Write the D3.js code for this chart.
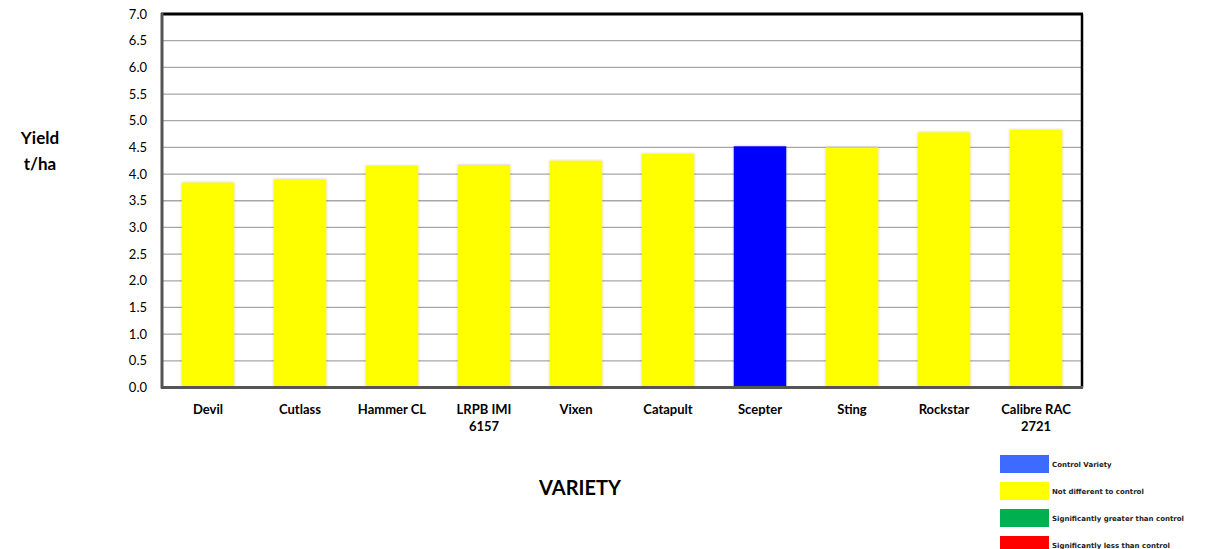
<html>
  <head>
    <script src="https://d3js.org/d3.v7.min.js"></script>
    <style>
      body { margin: 0; background: #fff; }
      text { font-family: Lato, "Open Sans", sans-serif; }
      .legtxt { font-family: "DejaVu Sans", sans-serif; }
    </style>
  </head>
  <body>
    <div id="vis"></div>
  </body>
  <script>
    // chart data
    var varieties = ["Devil", "Cutlass", "Hammer CL", "LRPB IMI 6157", "Vixen", "Catapult", "Scepter", "Sting", "Rockstar", "Calibre RAC 2721"]
    var labelLines = [["Devil"], ["Cutlass"], ["Hammer CL"], ["LRPB IMI", "6157"], ["Vixen"], ["Catapult"], ["Scepter"], ["Sting"], ["Rockstar"], ["Calibre RAC", "2721"]]
    var yields = [3.84, 3.90, 4.15, 4.17, 4.25, 4.38, 4.52, 4.50, 4.78, 4.83]
    var groups = ["nd", "nd", "nd", "nd", "nd", "nd", "control", "nd", "nd", "nd"]
    var yTicks = [0, 0.5, 1, 1.5, 2, 2.5, 3, 3.5, 4, 4.5, 5, 5.5, 6, 6.5, 7]
    var legendLabels = ["Control Variety", "Not different to control", "Significantly greater than control", "Significantly less than control"]
    var legendColors = ["#3d6bff", "#ffff00", "#00b050", "#ff0000"]

    var barColor = { control: "#0000ff", nd: "#ffff00" }

    var margin = {top: 14, left: 162}
    var width = 920
    var height = 373.5

    var svg = d3.select("#vis")
      .append("svg")
      .attr("width", 1216)
      .attr("height", 549)

    var defs = svg.append("defs")
    var f = defs.append("filter").attr("id", "shadow").attr("x", "-20%").attr("y", "-20%").attr("width", "140%").attr("height", "140%")
    f.append("feDropShadow").attr("dx", 0).attr("dy", 0).attr("stdDeviation", 1.2).attr("flood-color", "#000").attr("flood-opacity", 0.3)

    var g = svg.append("g")
      .attr("transform", "translate(" + margin.left + "," + margin.top + ")")

    var x = d3.scaleBand()
      .domain(varieties)
      .range([0, width])
      .paddingInner(0.43)
      .paddingOuter(0.215)

    var y = d3.scaleLinear()
      .domain([0, 7])
      .range([height, 0])

    // gridlines
    g.append("g")
      .selectAll("line")
      .data(yTicks.filter(function(d) { return d > 0 && d < 7 }))
      .join("line")
      .attr("x1", 0)
      .attr("x2", width)
      .attr("y1", function(d) { return y(d) })
      .attr("y2", function(d) { return y(d) })
      .attr("stroke", "#a6a6a6")
      .attr("stroke-width", 1.3)

    // y axis tick labels
    var yAxis = g.append("g")
      .call(d3.axisLeft(y).tickValues(yTicks).tickFormat(d3.format(".1f")).tickSize(0).tickPadding(15))
    yAxis.select(".domain").remove()
    yAxis.selectAll("text")
      .attr("font-size", 13)
      .attr("font-family", "Lato, sans-serif")
      .attr("fill", "#000")

    // bars
    g.append("g")
      .selectAll("rect")
      .data(varieties)
      .join("rect")
      .attr("x", function(d) { return x(d) })
      .attr("width", x.bandwidth())
      .attr("y", function(d, i) { return y(yields[i]) })
      .attr("height", function(d, i) { return height - y(yields[i]) })
      .attr("fill", function(d, i) { return barColor[groups[i]] })
      .attr("filter", "url(#shadow)")

    // frame
    g.append("line").attr("x1", -1).attr("x2", width + 1).attr("y1", 0).attr("y2", 0)
      .attr("stroke", "#000").attr("stroke-width", 3)
    g.append("line").attr("x1", width).attr("x2", width).attr("y1", 0).attr("y2", height)
      .attr("stroke", "#000").attr("stroke-width", 2.5)
    g.append("line").attr("x1", 0).attr("x2", 0).attr("y1", -1).attr("y2", height + 1)
      .attr("stroke", "#555").attr("stroke-width", 3)
    g.append("line").attr("x1", -1).attr("x2", width + 1).attr("y1", height).attr("y2", height)
      .attr("stroke", "#555").attr("stroke-width", 3)

    // x labels
    var xl = g.append("g")
      .selectAll("text")
      .data(varieties)
      .join("text")
      .attr("x", function(d) { return x(d) + x.bandwidth() / 2 })
      .attr("y", height + 26)
      .attr("text-anchor", "middle")
      .attr("font-size", 13)
      .attr("font-weight", "bold")
    xl.selectAll("tspan")
      .data(function(d, i) { return labelLines[i] })
      .join("tspan")
      .attr("x", function() { return d3.select(this.parentNode).attr("x") })
      .attr("dy", function(d, i) { return i == 0 ? 0 : 17 })
      .text(function(d) { return d })

    // axis titles
    svg.append("text").text("Yield")
      .attr("x", 40).attr("y", 144).attr("text-anchor", "middle")
      .attr("font-size", 17).attr("font-weight", "bold")
    svg.append("text").text("t/ha")
      .attr("x", 40).attr("y", 170).attr("text-anchor", "middle")
      .attr("font-size", 17).attr("font-weight", "bold")
    svg.append("text").text("VARIETY")
      .attr("x", 580).attr("y", 495).attr("text-anchor", "middle")
      .attr("font-size", 20).attr("font-weight", "bold")

    // legend
    var leg = svg.append("g")
      .selectAll("g")
      .data(legendLabels)
      .join("g")
      .attr("transform", function(d, i) { return "translate(1000," + (455 + i * 27) + ")" })
    leg.append("rect")
      .attr("width", 49)
      .attr("height", 18)
      .attr("fill", function(d, i) { return legendColors[i] })
    leg.append("text")
      .attr("class", "legtxt")
      .text(function(d) { return d })
      .attr("x", 52)
      .attr("y", 12)
      .attr("font-size", 7)
      .attr("font-weight", "bold")
      .attr("fill", "#222")
  </script>
</html>
